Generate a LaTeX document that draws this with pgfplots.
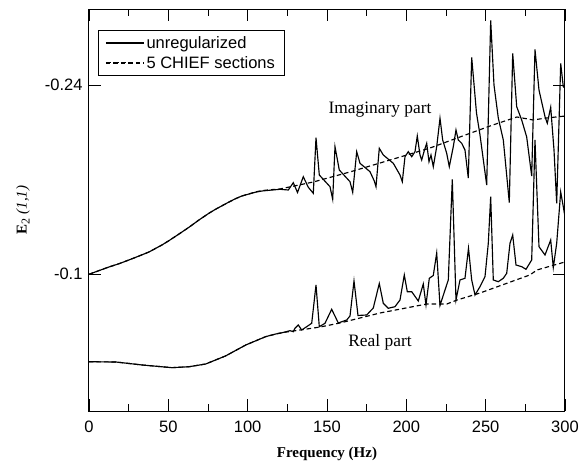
\documentclass[border=0pt]{standalone}
\usepackage{pgfplots}
\usepackage{pgfplotstable}
\pgfplotsset{compat=1.18}
\usepackage{fontspec}
\setmainfont{Liberation Sans}
\newfontfamily\seriffont{Liberation Serif}

\pgfplotstableread{
x y
0 -0.0998
12.6 -0.1052
18.9 -0.1076
25.2 -0.1104
31.5 -0.1133
37.8 -0.1163
46.0 -0.1215
50.4 -0.1247
56.7 -0.1296
63.0 -0.1346
69.3 -0.1400
75.6 -0.1450
80.0 -0.1481
88.2 -0.1533
92.4 -0.1558
96.4 -0.1578
105.3 -0.1607
109.2 -0.1615
115.3 -0.1622
120.38 -0.16274
125.61 -0.16222
128.76 -0.16763
131.41 -0.16037
135.06 -0.17207
138.21 -0.16422
141.37 -0.15978
143.07 -0.20096
145.15 -0.17333
151.89 -0.16467
153.59 -0.15533
155.04 -0.19430
157.75 -0.17704
164.50 -0.16837
166.20 -0.16052
168.72 -0.19059
170.80 -0.18200
177.10 -0.17578
179.81 -0.16889
180.88 -0.16467
182.96 -0.19311
185.48 -0.18815
191.79 -0.18200
196.01 -0.17333
197.46 -0.16837
199.16 -0.18689
201.24 -0.19059
203.38 -0.18689
205.46 -0.19059
206.91 -0.20222
208.61 -0.18815
209.68 -0.18444
211.13 -0.19059
212.83 -0.19681
214.29 -0.18319
215.55 -0.18815
216.99 -0.17948
219.14 -0.19430
221.22 -0.21533
222.92 -0.19926
225.44 -0.18941
227.08 -0.17948
229.60 -0.19430
231.30 -0.20667
232.75 -0.19926
234.89 -0.19681
236.97 -0.19185
239.05 -0.17111
241.20 -0.26037
244.22 -0.21926
246.43 -0.20296
250.65 -0.16593
253.17 -0.28778
255.25 -0.24000
257.96 -0.21556
261.12 -0.19926
264.90 -0.15296
267.04 -0.26348
269.56 -0.22393
272.71 -0.21407
275.86 -0.20148
279.01 -0.17259
281.09 -0.26630
283.61 -0.23630
287.40 -0.21652
288.84 -0.21163
290.99 -0.22348
293.07 -0.19185
294.77 -0.15237
297.29 -0.25593
298.93 -0.23874
300 -0.23778
}\imagsolid

\pgfplotstableread{
x y
0 -0.0350
17.0 -0.0348
33.4 -0.0326
52.3 -0.0306
63.0 -0.0313
73.5 -0.0333
86.1 -0.0393
98.8 -0.0474
111.4 -0.0536
117.9 -0.0556
120.38 -0.05607
126.68 -0.05800
128.76 -0.05726
129.83 -0.05978
131.91 -0.06222
134.05 -0.05852
137.20 -0.06096
140.36 -0.06348
143.07 -0.09185
145.15 -0.06096
148.74 -0.06348
152.96 -0.07385
157.12 -0.06370
162.42 -0.06593
164.50 -0.06889
167.02 -0.09481
169.54 -0.06926
175.02 -0.06963
179.18 -0.07481
182.96 -0.09296
185.48 -0.07830
188.63 -0.07459
192.86 -0.07578
196.01 -0.08074
198.72 -0.09926
200.61 -0.08689
203.38 -0.08689
207.54 -0.08000
210.69 -0.09259
212.39 -0.07704
214.48 -0.09681
216.99 -0.09889
219.14 -0.11556
221.22 -0.07667
224.37 -0.08815
226.45 -0.09556
228.97 -0.17000
231.30 -0.08074
233.82 -0.09556
236.97 -0.09681
239.18 -0.11904
241.20 -0.09556
243.28 -0.08444
246.43 -0.09059
249.58 -0.09800
251.66 -0.12274
253.17 -0.15726
254.81 -0.09556
257.96 -0.09430
261.12 -0.09681
263.26 -0.10052
265.34 -0.12274
267.04 -0.12889
269.12 -0.10667
272.71 -0.10541
275.42 -0.10348
279.01 -0.11037
281.09 -0.19926
283.61 -0.12022
287.40 -0.11407
290.99 -0.12519
292.63 -0.10481
294.77 -0.12274
297.29 -0.16074
298.93 -0.14985
300 -0.14222
}\realsolid

\pgfplotstableread{
x y
0 -0.0998
12.6 -0.1052
18.9 -0.1076
25.2 -0.1104
31.5 -0.1133
37.8 -0.1163
46.0 -0.1215
50.4 -0.1247
56.7 -0.1296
63.0 -0.1346
69.3 -0.1400
75.6 -0.1450
80.0 -0.1481
88.2 -0.1533
92.4 -0.1558
96.4 -0.1578
105.3 -0.1609
109.2 -0.1618
115.3 -0.1625
120.38 -0.1630
141.2 -0.1681
164.5 -0.1756
183.4 -0.1822
214.9 -0.1933
233.8 -0.2015
254.6 -0.2104
269.7 -0.2163
279.8 -0.2141
288.7 -0.2156
300 -0.2170
}\imagchief

\pgfplotstableread{
x y
0 -0.0350
17.0 -0.0348
33.4 -0.0326
52.3 -0.0306
63.0 -0.0313
73.5 -0.0333
86.1 -0.0393
98.8 -0.0474
111.4 -0.0536
117.9 -0.0556
120.4 -0.0563
145.6 -0.0607
158.2 -0.0637
183.4 -0.0711
213.0 -0.0778
225.6 -0.0778
231.9 -0.0807
246.4 -0.0859
277.9 -0.0993
282.4 -0.1030
300 -0.1089
}\realchief

\begin{document}
\begin{tikzpicture}
\begin{axis}[
  name=ax,
  scale only axis,
  width=476pt, height=402pt,
  xmin=0, xmax=300,
  ymin=-0.2963, ymax=0.0015,
  y dir=reverse,
  xtick={0,50,100,150,200,250,300},
  xticklabels={0,50,100,150,200,250,300},
  minor xtick={25,75,125,175,225,275},
  ytick={-0.24,-0.1},
  yticklabels={-0.24,-0.1},
  tick align=inside,
  major tick length=12pt,
  minor tick length=7pt,
  tick style={black, line width=0.9pt},
  axis line style={black, line width=1pt},
  ticklabel style={font=\fontsize{16.5}{19}\selectfont},
  xticklabel style={yshift=-6pt},
  yticklabel style={xshift=-3pt},
  xlabel={\seriffont\bfseries Frequency (Hz)},
  xlabel style={at={(axis description cs:0.5,-0.107)}, anchor=center, font=\fontsize{15}{17}\selectfont},
  ylabel={\seriffont\textbf{E}{\fontsize{12}{14}\selectfont\raisebox{-3pt}{2}} \textit{(1,1)}},
  ylabel style={at={(axis description cs:-0.1387,0.5)}, anchor=center, font=\fontsize{15}{17}\selectfont},
  legend style={at={(axis description cs:0.0189,0.948)}, anchor=north west,
    draw=black, line width=0.8pt, font=\fontsize{16.5}{19}\selectfont,
    row sep=2.5pt, inner xsep=7pt, inner ysep=4pt, cells={anchor=west}},
  legend image code/.code={\draw[#1, line width=1pt] (1pt,0pt) -- (25pt,0pt); \path (0pt,0pt) -- (38pt,0pt);},
  every axis plot/.append style={black, line width=1.15pt},
]
\addplot[solid] table[x=x,y=y] {\imagsolid};
\addlegendentry{unregularized}
\addplot[dash pattern=on 4.5pt off 3pt] table[x=x,y=y] {\imagchief};
\addlegendentry{5 CHIEF sections}
\addplot[solid, forget plot] table[x=x,y=y] {\realsolid};
\addplot[dash pattern=on 4.5pt off 3pt, forget plot] table[x=x,y=y] {\realchief};
\node[font=\seriffont\fontsize{17.4}{20}\selectfont] at (axis cs:183.4,-0.2215) {Imaginary part};
\node[font=\seriffont\fontsize{17.4}{20}\selectfont] at (axis cs:183.4,-0.0496) {Real part};
\end{axis}
\pgfresetboundingbox
\path[use as bounding box] (ax.south west) ++(-89pt,-52pt) rectangle ++(582pt,463pt);
\end{tikzpicture}
\end{document}
